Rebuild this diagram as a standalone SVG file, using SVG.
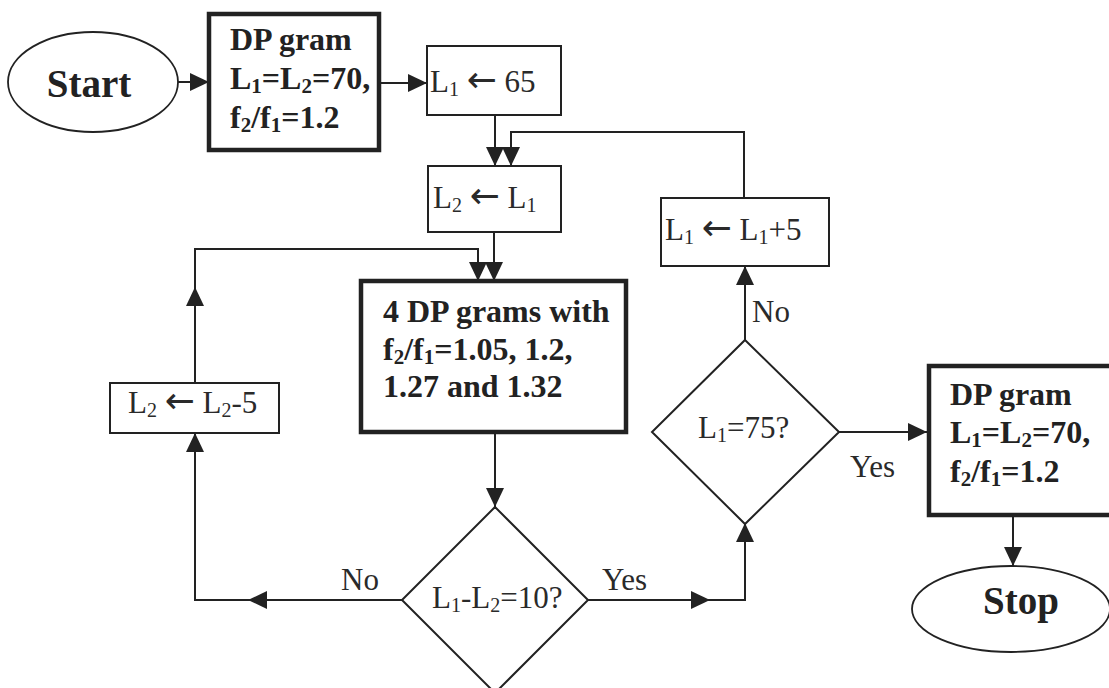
<svg xmlns="http://www.w3.org/2000/svg" width="1109" height="688" viewBox="0 0 1109 688">
<defs>
<style>
.bg{fill:#fff}
.box{fill:#fff;stroke:#222;stroke-width:2}
.thick{fill:#fff;stroke:#222;stroke-width:4.5}
.term{fill:#fff;stroke:#222;stroke-width:1.8}
.dia{fill:#fff;stroke:#222;stroke-width:2}
.con{fill:none;stroke:#222;stroke-width:2}
.b{font-family:"Liberation Serif","Times New Roman",serif;font-weight:bold;font-size:32px;fill:#222}
.n{font-family:"Liberation Serif","Times New Roman",serif;font-size:31px;fill:#2a2a2a}
.t{font-family:"Liberation Serif","Times New Roman",serif;font-weight:bold;font-size:39px;fill:#222}
.ar{font-family:"DejaVu Sans",sans-serif;font-size:36px}
</style>
<marker id="ah" markerUnits="userSpaceOnUse" markerWidth="20" markerHeight="18" refX="19" refY="9" orient="auto" viewBox="0 0 20 18">
<path d="M0,0 L19,9 L0,18 z" fill="#222"/>
</marker>
</defs>
<rect class="bg" x="0" y="0" width="1109" height="688"/>

<g id="connectors">
<path class="con" d="M178,82 H209" marker-end="url(#ah)"/>
<path class="con" d="M379,83 H427" marker-end="url(#ah)"/>
<path class="con" d="M495,115 V166" marker-end="url(#ah)"/>
<path class="con" d="M744,198 V132 H511 V166" marker-end="url(#ah)"/>
<path class="con" d="M494,232 V281" marker-end="url(#ah)"/>
<path class="con" d="M195,383 V287" marker-end="url(#ah)"/>
<path class="con" d="M195,288 V249 H478 V281" marker-end="url(#ah)"/>
<path class="con" d="M495,432 V507" marker-end="url(#ah)"/>
<path class="con" d="M402,600 H248" marker-end="url(#ah)"/>
<path class="con" d="M249,600 H195 V433" marker-end="url(#ah)"/>
<path class="con" d="M588,600 H710" marker-end="url(#ah)"/>
<path class="con" d="M709,600 H745 V523" marker-end="url(#ah)"/>
<path class="con" d="M745,340 V266" marker-end="url(#ah)"/>
<path class="con" d="M839,432 H927" marker-end="url(#ah)"/>
<path class="con" d="M1013,515 V566" marker-end="url(#ah)"/>
<text class="n" x="602" y="590">Yes</text>
<text class="n" x="850" y="477">Yes</text>
<text class="n" x="341" y="590">No</text>
<text class="n" x="752" y="322">No</text>
</g>

<g id="start">
<ellipse class="term" cx="93" cy="82" rx="85" ry="50"/>
<text class="t" x="89" y="97" text-anchor="middle">Start</text>
</g>

<g id="dpgram1">
<rect class="thick" x="209" y="14" width="170" height="136"/>
<text class="b" x="230" y="50">DP gram</text>
<text class="b" x="230" y="89">L<tspan font-size="21" dy="4">1</tspan><tspan dy="-4">=L</tspan><tspan font-size="21" dy="4">2</tspan><tspan dy="-4">=70,</tspan></text>
<text class="b" x="230" y="128">f<tspan font-size="21" dy="4">2</tspan><tspan dy="-4">/f</tspan><tspan font-size="21" dy="4">1</tspan><tspan dy="-4">=1.2</tspan></text>
</g>

<g id="setL1">
<rect class="box" x="427" y="46" width="134" height="69"/>
<text class="n" x="430" y="92">L<tspan font-size="20" dy="4">1</tspan><tspan dy="-4"> </tspan><tspan class="ar">←</tspan> 65</text>
</g>

<g id="setL2">
<rect class="box" x="428" y="166" width="133" height="66"/>
<text class="n" x="433" y="208">L<tspan font-size="20" dy="4">2</tspan><tspan dy="-4"> </tspan><tspan class="ar">←</tspan> L<tspan font-size="20" dy="4">1</tspan></text>
</g>

<g id="incL1">
<rect class="box" x="661" y="198" width="168" height="68"/>
<text class="n" x="665" y="240">L<tspan font-size="20" dy="4">1</tspan><tspan dy="-4"> </tspan><tspan class="ar">←</tspan> L<tspan font-size="20" dy="4">1</tspan><tspan dy="-4">+5</tspan></text>
</g>

<g id="decL2">
<rect class="box" x="110" y="383" width="169" height="50"/>
<text class="n" x="128" y="413">L<tspan font-size="20" dy="4">2</tspan><tspan dy="-4"> </tspan><tspan class="ar">←</tspan> L<tspan font-size="20" dy="4">2</tspan><tspan dy="-4">-5</tspan></text>
</g>

<g id="dpgrams4">
<rect class="thick" x="361" y="281" width="265" height="151"/>
<text class="b" x="383" y="322">4 DP grams with</text>
<text class="b" x="383" y="360">f<tspan font-size="21" dy="4">2</tspan><tspan dy="-4">/f</tspan><tspan font-size="21" dy="4">1</tspan><tspan dy="-4">=1.05, 1.2,</tspan></text>
<text class="b" x="383" y="397">1.27 and 1.32</text>
</g>

<g id="diff">
<polygon class="dia" points="495,507 588,600 495,693 402,600"/>
<text class="n" x="432" y="608">L<tspan font-size="20" dy="4">1</tspan><tspan dy="-4">-L</tspan><tspan font-size="20" dy="4">2</tspan><tspan dy="-4">=10?</tspan></text>
</g>

<g id="check75">
<polygon class="dia" points="745,340 839,432 745,524 652,432"/>
<text class="n" x="698" y="438">L<tspan font-size="20" dy="4">1</tspan><tspan dy="-4">=75?</tspan></text>
</g>

<g id="dpgram2">
<rect class="thick" x="929" y="366" width="190" height="149"/>
<text class="b" x="950" y="405">DP gram</text>
<text class="b" x="950" y="443">L<tspan font-size="21" dy="4">1</tspan><tspan dy="-4">=L</tspan><tspan font-size="21" dy="4">2</tspan><tspan dy="-4">=70,</tspan></text>
<text class="b" x="950" y="482">f<tspan font-size="21" dy="4">2</tspan><tspan dy="-4">/f</tspan><tspan font-size="21" dy="4">1</tspan><tspan dy="-4">=1.2</tspan></text>
</g>

<g id="stop">
<ellipse class="term" cx="1011" cy="609" rx="99" ry="43"/>
<text class="t" x="1021" y="614" text-anchor="middle">Stop</text>
</g>
</svg>
